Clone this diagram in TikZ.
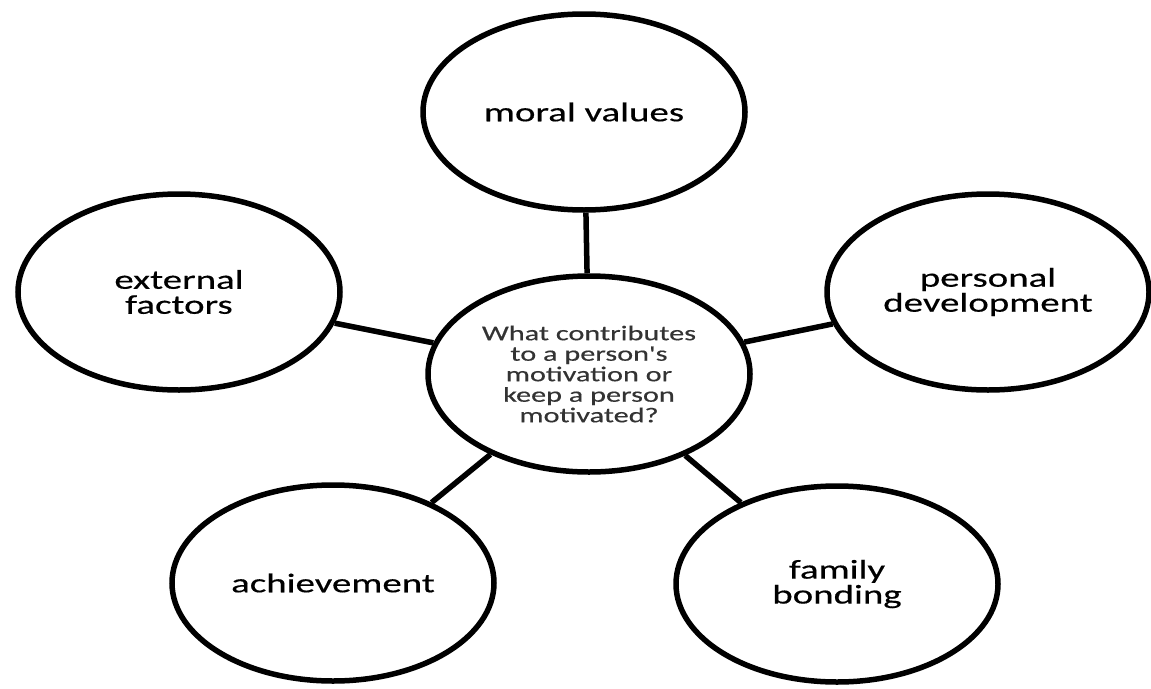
\documentclass[tikz,border=0pt]{standalone}
\usepackage{fontspec}
\newfontfamily\bubfont{Carlito}[FakeStretch=1.44,FakeBold=0.4]
\usetikzlibrary{shapes.geometric}
\begin{document}
\begin{tikzpicture}[x=1pt,y=-1pt,
  bub/.style={ellipse, draw=black, fill=white, line width=5.5pt, minimum width=322pt, minimum height=196pt, inner sep=0pt, align=center, font=\bubfont\fontsize{27}{25}\selectfont},
  hub/.style={bub, font=\bubfont\fontsize{21}{20.5}\selectfont, text=black!80},
  link/.style={line width=5.5pt}]
\useasboundingbox (0,0) rectangle (1151,688);
\node[hub] (c) at (589,374) {What contributes\\to a person's\\motivation or\\keep a person\\motivated?};
\node[bub] (mv) at (584,112) {moral values};
\node[bub] (ef) at (179,292) {external\\factors};
\node[bub] (pd) at (988,292) {personal\\development};
\node[bub] (ac) at (333,583) {achievement};
\node[bub] (fb) at (837,584) {family\\bonding};
\draw[link] (c) -- (mv);
\draw[link] (c) -- (ef);
\draw[link] (c) -- (pd);
\draw[link] (c) -- (ac);
\draw[link] (c) -- (fb);
\end{tikzpicture}
\end{document}
